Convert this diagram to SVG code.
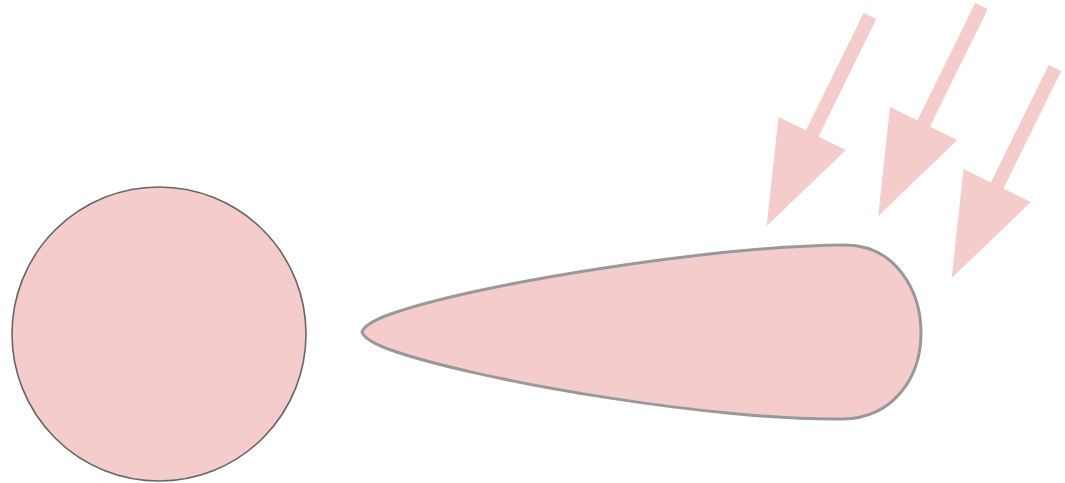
<svg xmlns="http://www.w3.org/2000/svg" xmlns:xlink="http://www.w3.org/1999/xlink" width="1065" height="483" viewBox="0 0 1065 483">
<style>
.arrow{fill:#f4cccc;stroke:none}
.body{fill:#f4cccc}
</style>
<defs>
<g id="arrowShape">
<rect class="arrow" x="-7" y="0" width="14" height="133"/>
<polygon class="arrow" points="-37.5,131 37.5,131 0,234"/>
</g>
</defs>
<rect width="1065" height="483" fill="#ffffff"/>
<g id="circle">
<circle class="body" cx="159" cy="334" r="147" stroke="#666666" stroke-width="1.6"/>
</g>
<g id="teardrop">
<path class="body" d="M 362,332 C 364,326 372,321 388,315 C 480,282 720,246 845,245 C 895,245 921,290 921,333 C 921,378 893,418 843,419 C 720,421 480,382 388,349 C 372,343 364,338 362,332 Z" stroke="#999999" stroke-width="3"/>
</g>
<g id="connectors">
<use xlink:href="#arrowShape" transform="translate(870,16) rotate(26.2)"/>
<use xlink:href="#arrowShape" transform="translate(981.5,6) rotate(26.2)"/>
<use xlink:href="#arrowShape" transform="translate(1055,68) rotate(26.2)"/>
</g>
</svg>
